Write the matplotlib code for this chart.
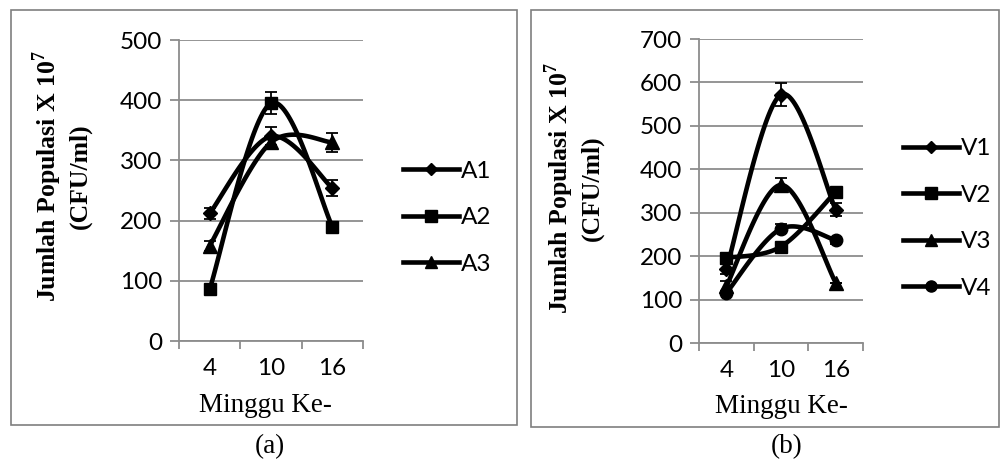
import numpy as np
import matplotlib
matplotlib.use('Agg')
import matplotlib.pyplot as plt
from matplotlib.patches import Rectangle

plt.rcParams['mathtext.fontset'] = 'custom'
plt.rcParams['mathtext.rm'] = 'Liberation Serif:bold'
plt.rcParams['mathtext.bf'] = 'Liberation Serif:bold'

# data
minggu = ['4', '10', '16']

a_names = ['A1', 'A2', 'A3']
a_vals = [[212, 340, 254],
          [86, 395, 190],
          [158, 330, 330]]
a_err = [[9, 15, 13],
         [0, 18, 0],
         [8, 10, 16]]

v_names = ['V1', 'V2', 'V3', 'V4']
v_vals = [[170, 572, 307],
          [196, 222, 348],
          [131, 364, 139],
          [115, 263, 237]]
v_err = [[12, 27, 15],
         [0, 0, 0],
         [12, 16, 0],
         [0, 10, 8]]

markers_a = ['D', 's', '^']
markers_v = ['D', 's', '^', 'o']
msizes = {'D': 7, 's': 9, '^': 10, 'o': 9}

GRID = '#8c8c8c'
SANS = 'Lato'
SERIF = 'Liberation Serif'
TICKFS = 17.5


def smooth(x, y, n=40):
    # excel style smoothed line (bezier, 1/6 tangents)
    P = np.column_stack([x, y]).astype(float)
    pts = []
    for i in range(len(P) - 1):
        p0 = P[i - 1] if i > 0 else P[i]
        p1, p2 = P[i], P[i + 1]
        p3 = P[i + 2] if i + 2 < len(P) else P[i + 1]
        c1 = p1 + (p2 - p0) / 6
        c2 = p2 - (p3 - p1) / 6
        t = np.linspace(0, 1, n)[:, None]
        seg = (1 - t) ** 3 * p1 + 3 * (1 - t) ** 2 * t * c1 + 3 * (1 - t) * t ** 2 * c2 + t ** 3 * p2
        pts.append(seg)
    pts = np.vstack(pts)
    return pts[:, 0], pts[:, 1]


def panel(ax, names, vals, errs, marks, ymax, leg_anchor):
    x = np.arange(len(minggu))
    for name, v, e, m in zip(names, vals, errs, marks):
        sx, sy = smooth(x, v)
        ax.plot(sx, sy, color='black', lw=3.3, zorder=3)
        ax.errorbar(x, v, yerr=e, fmt='none', ecolor='black', elinewidth=1.3,
                    capsize=4, capthick=1.3, zorder=4)
        ax.plot(x, v, ls='none', marker=m, ms=msizes[m], color='black', zorder=5)
        ax.plot([], [], color='black', lw=3.3, marker=m, ms=msizes[m] - 1, label=name)
    ax.set_xlim(-0.5, len(minggu) - 0.5)
    ax.set_ylim(0, ymax)
    ax.set_yticks(np.arange(0, ymax + 1, 100))
    ax.set_xticks(np.arange(len(minggu) + 1) - 0.5)
    ax.set_xticklabels([])
    ax.set_xticks(x, minor=True)
    ax.set_xticklabels(minggu, minor=True)
    ax.tick_params(axis='x', which='major', length=6, width=1.3, color=GRID, direction='out')
    ax.tick_params(axis='x', which='minor', length=0, pad=12, labelsize=TICKFS)
    ax.tick_params(axis='y', length=6.5, width=1.3, color=GRID, labelsize=TICKFS, pad=5.5)
    for lab in ax.get_xticklabels(minor=True) + ax.get_yticklabels():
        lab.set_fontfamily(SANS)
    ax.grid(axis='y', color=GRID, lw=1.3)
    ax.set_axisbelow(True)
    for s in ['top', 'right']:
        ax.spines[s].set_visible(False)
    for s in ['left', 'bottom']:
        ax.spines[s].set_color(GRID)
        ax.spines[s].set_linewidth(1.3)
    ax.legend(loc='center left', bbox_to_anchor=leg_anchor, frameon=False,
              prop={'family': SANS, 'size': TICKFS}, handlelength=2.3,
              handletextpad=0.1, labelspacing=1.05, borderaxespad=0, borderpad=0)


fig = plt.figure(figsize=(10.03, 4.61), dpi=100)
W, H = 1003, 461

# outer boxes
fig.patches.append(Rectangle((11 / W, 1 - 425 / H), 506 / W, 415 / H, transform=fig.transFigure,
                             fill=False, edgecolor='#7f7f7f', lw=1.2))
fig.patches.append(Rectangle((531 / W, 1 - 427 / H), 468 / W, 417 / H, transform=fig.transFigure,
                             fill=False, edgecolor='#7f7f7f', lw=1.2))

ax1 = fig.add_axes([179 / W, 1 - 341 / H, 184 / W, 301 / H])
panel(ax1, a_names, a_vals, a_err, markers_a, 500, (1.217, 0.409))

ax2 = fig.add_axes([699 / W, 1 - 343 / H, 164 / W, 304 / H])
panel(ax2, v_names, v_vals, v_err, markers_v, 700, (1.244, 0.41))

ylab1 = 'Jumlah Populasi X 10$^{7}$'
ylab2 = '(CFU/ml)'
for cx1, cx2, cy in [(47, 80, 176), (559, 592, 188)]:
    fig.text(cx1 / W, 1 - cy / H, ylab1, rotation=90, ha='center', va='center',
             family=SERIF, weight='bold', fontsize=18.5)
    fig.text(cx2 / W, 1 - cy / H, ylab2, rotation=90, ha='center', va='center',
             family=SERIF, weight='bold', fontsize=18.5)

fig.text(265 / W, 1 - 405 / H, 'Minggu Ke-', ha='center', va='center', family=SERIF, fontsize=19.5)
fig.text(781 / W, 1 - 406 / H, 'Minggu Ke-', ha='center', va='center', family=SERIF, fontsize=19.5)
fig.text(270 / W, 1 - 447 / H, '(a)', ha='center', va='center', family=SERIF, fontsize=19.5)
fig.text(787 / W, 1 - 447 / H, '(b)', ha='center', va='center', family=SERIF, fontsize=19.5)

plt.savefig('out.png', dpi=100)
